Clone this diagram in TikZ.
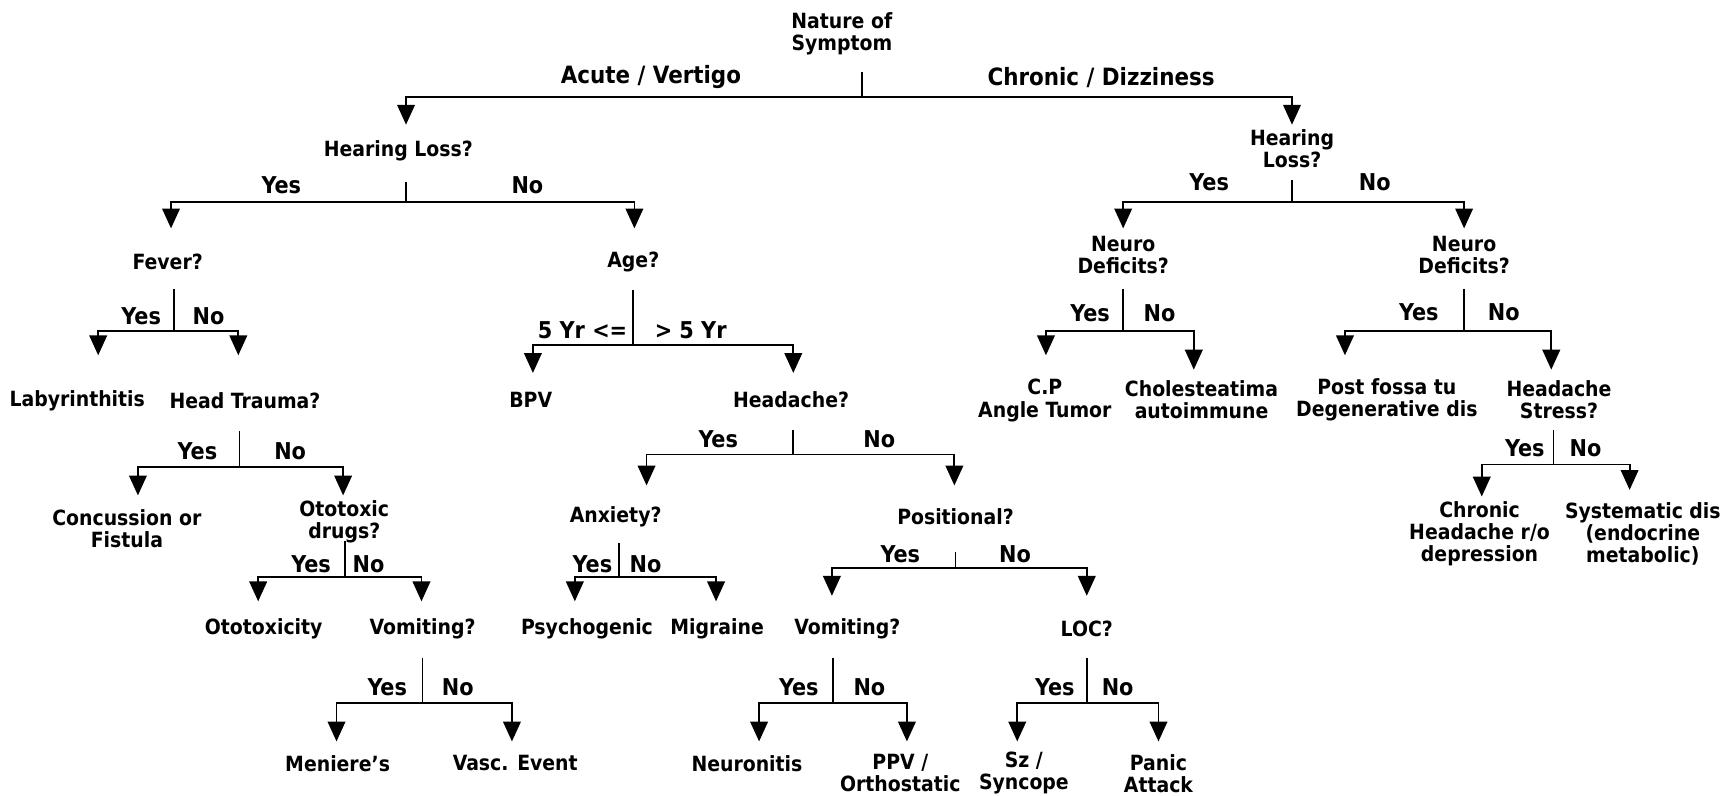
\documentclass[tikz,border=0pt]{standalone}
\usepackage{fontspec}
\setmainfont{DejaVu Sans Condensed}
\usetikzlibrary{arrows.meta}
\newcommand\mybranch[8]{%
  \coordinate (#1-t) at (#2,#3);
  \coordinate (#1-j) at (#2,#4);
  \coordinate (#1-l) at (#5,#7);
  \coordinate (#1-r) at (#6,#8);
  \draw[ln] (#1-t) -- (#1-j);
  \draw[arr] (#1-j) -| (#1-l);
  \draw[arr] (#1-j) -| (#1-r);
}
\begin{document}
\begin{tikzpicture}[x=0.5pt,y=-0.5pt,
  txt/.style={font=\fontsize{9.5}{10}\selectfont\bfseries, align=center, inner sep=0pt},
  br/.style={font=\fontsize{10.5}{12}\selectfont\bfseries, inner sep=0pt},
  top/.style={font=\fontsize{10.8}{12}\selectfont\bfseries, inner sep=0pt},
  ln/.style={line width=0.8pt},
  arr/.style={ln, -{Triangle[width=8pt,length=9pt]}}]
\useasboundingbox (0,0) rectangle (1568,721);
\fill[white] (0,0) rectangle (1568,721);

% decision and result nodes
\node[txt] (root) at (763,31) {Nature of\\Symptom};
\node[txt] (hl1) at (361,137) {Hearing Loss?};
\node[txt] (hl2) at (1171,135) {Hearing\\Loss?};
\node[txt] (fever) at (152,237) {Fever?};
\node[txt] (age) at (574,237) {Age?};
\node[txt] (nd1) at (1018,231) {Neuro\\Deficits?};
\node[txt] (nd2) at (1327,231) {Neuro\\Deficits?};
\node[txt] (laby) at (70,363) {Labyrinthitis};
\node[txt] (ht) at (222,363) {Head Trauma?};
\node[txt] (bpv) at (481,362) {BPV};
\node[txt] (hd) at (717,362) {Headache?};
\node[txt] (cp) at (947,363) {C.P\\Angle Tumor};
\node[txt] (chol) at (1089,362) {Cholesteatima\\autoimmune};
\node[txt] (post) at (1257,362) {Post fossa tu\\Degenerative dis};
\node[txt] (hs) at (1413,362) {Headache\\Stress?};
\node[txt] (conc) at (115,479) {Concussion or\\Fistula};
\node[txt] (oto) at (312,473) {Ototoxic\\drugs?};
\node[txt] (anx) at (558,468) {Anxiety?};
\node[txt] (pos) at (866,468) {Positional?};
\node[txt] (chr) at (1341,484) {Chronic\\Headache r/o\\depression};
\node[txt] (sys) at (1489,484) {Systematic dis\\(endocrine\\metabolic)};
\node[txt] (ototox) at (239,570) {Ototoxicity};
\node[txt] (vom1) at (383,570) {Vomiting?};
\node[txt] (psy) at (532,570) {Psychogenic};
\node[txt] (mig) at (650,570) {Migraine};
\node[txt] (vom2) at (768,570) {Vomiting?};
\node[txt] (loc) at (985,570) {LOC?};
\node[txt] (men) at (306,692) {Meniere's};
\node[txt] (vasc) at (467,692) {Vasc. Event};
\node[txt] (neur) at (677,692) {Neuronitis};
\node[txt] (ppv) at (816,701) {PPV /\\Orthostatic};
\node[txt] (sz) at (928,701) {Sz /\\Syncope};
\node[txt] (panic) at (1050,701) {Panic\\Attack};

% branch labels
\node[top] (l-acute) at (590,70) {Acute / Vertigo};
\node[top] (l-chron) at (998,70) {Chronic / Dizziness};
\node[br] (y1) at (255,168) {Yes};  \node[br] (n1) at (478,168) {No};
\node[br] (y2) at (1096,165) {Yes}; \node[br] (n2) at (1246,165) {No};
\node[br] (y3) at (128,287) {Yes};  \node[br] (n3) at (189,287) {No};
\node[br] (y4) at (528,299) {5 Yr <=}; \node[br] (n4) at (626,299) {> 5 Yr};
\node[br] (y5) at (988,284) {Yes};  \node[br] (n5) at (1051,284) {No};
\node[br] (y6) at (1286,283) {Yes}; \node[br] (n6) at (1363,283) {No};
\node[br] (y7) at (179,409) {Yes};  \node[br] (n7) at (263,409) {No};
\node[br] (y8) at (651,398) {Yes};  \node[br] (n8) at (797,398) {No};
\node[br] (y9) at (1382,406) {Yes}; \node[br] (n9) at (1437,406) {No};
\node[br] (y10) at (282,511) {Yes}; \node[br] (n10) at (334,511) {No};
\node[br] (y11) at (537,511) {Yes}; \node[br] (n11) at (585,511) {No};
\node[br] (y12) at (816,502) {Yes}; \node[br] (n12) at (920,502) {No};
\node[br] (y13) at (351,623) {Yes}; \node[br] (n13) at (415,623) {No};
\node[br] (y14) at (724,623) {Yes}; \node[br] (n14) at (788,623) {No};
\node[br] (y15) at (956,623) {Yes}; \node[br] (n15) at (1013,623) {No};

% connectors
\mybranch{b0}{781}{65}{88}{368}{1171}{113}{113}
\mybranch{b1}{368}{165}{183}{155}{575}{207}{207}
\mybranch{b2}{1171}{163}{183}{1018}{1327}{207}{207}
\mybranch{b3}{158}{262}{300}{89}{216}{322}{322}
\mybranch{b4}{574}{263}{313}{483}{719}{338}{338}
\mybranch{b5}{1018}{262}{300}{948}{1082}{322}{335}
\mybranch{b6}{1327}{262}{300}{1219}{1406}{322}{335}
\mybranch{b7}{217}{391}{423}{125}{311}{449}{449}
\mybranch{b8}{719}{390}{412}{586}{865}{440}{440}
\mybranch{b9}{1408}{390}{421}{1343}{1477}{450}{444}
\mybranch{b10}{313}{490}{523}{234}{382}{545}{545}
\mybranch{b11}{561}{492}{523}{521}{649}{545}{545}
\mybranch{b12}{866}{500}{515}{754}{985}{540}{540}
\mybranch{b13}{383}{596}{637}{305}{464}{672}{672}
\mybranch{b14}{755}{596}{637}{688}{822}{672}{672}
\mybranch{b15}{985}{596}{637}{922}{1050}{672}{672}
\end{tikzpicture}
\end{document}
